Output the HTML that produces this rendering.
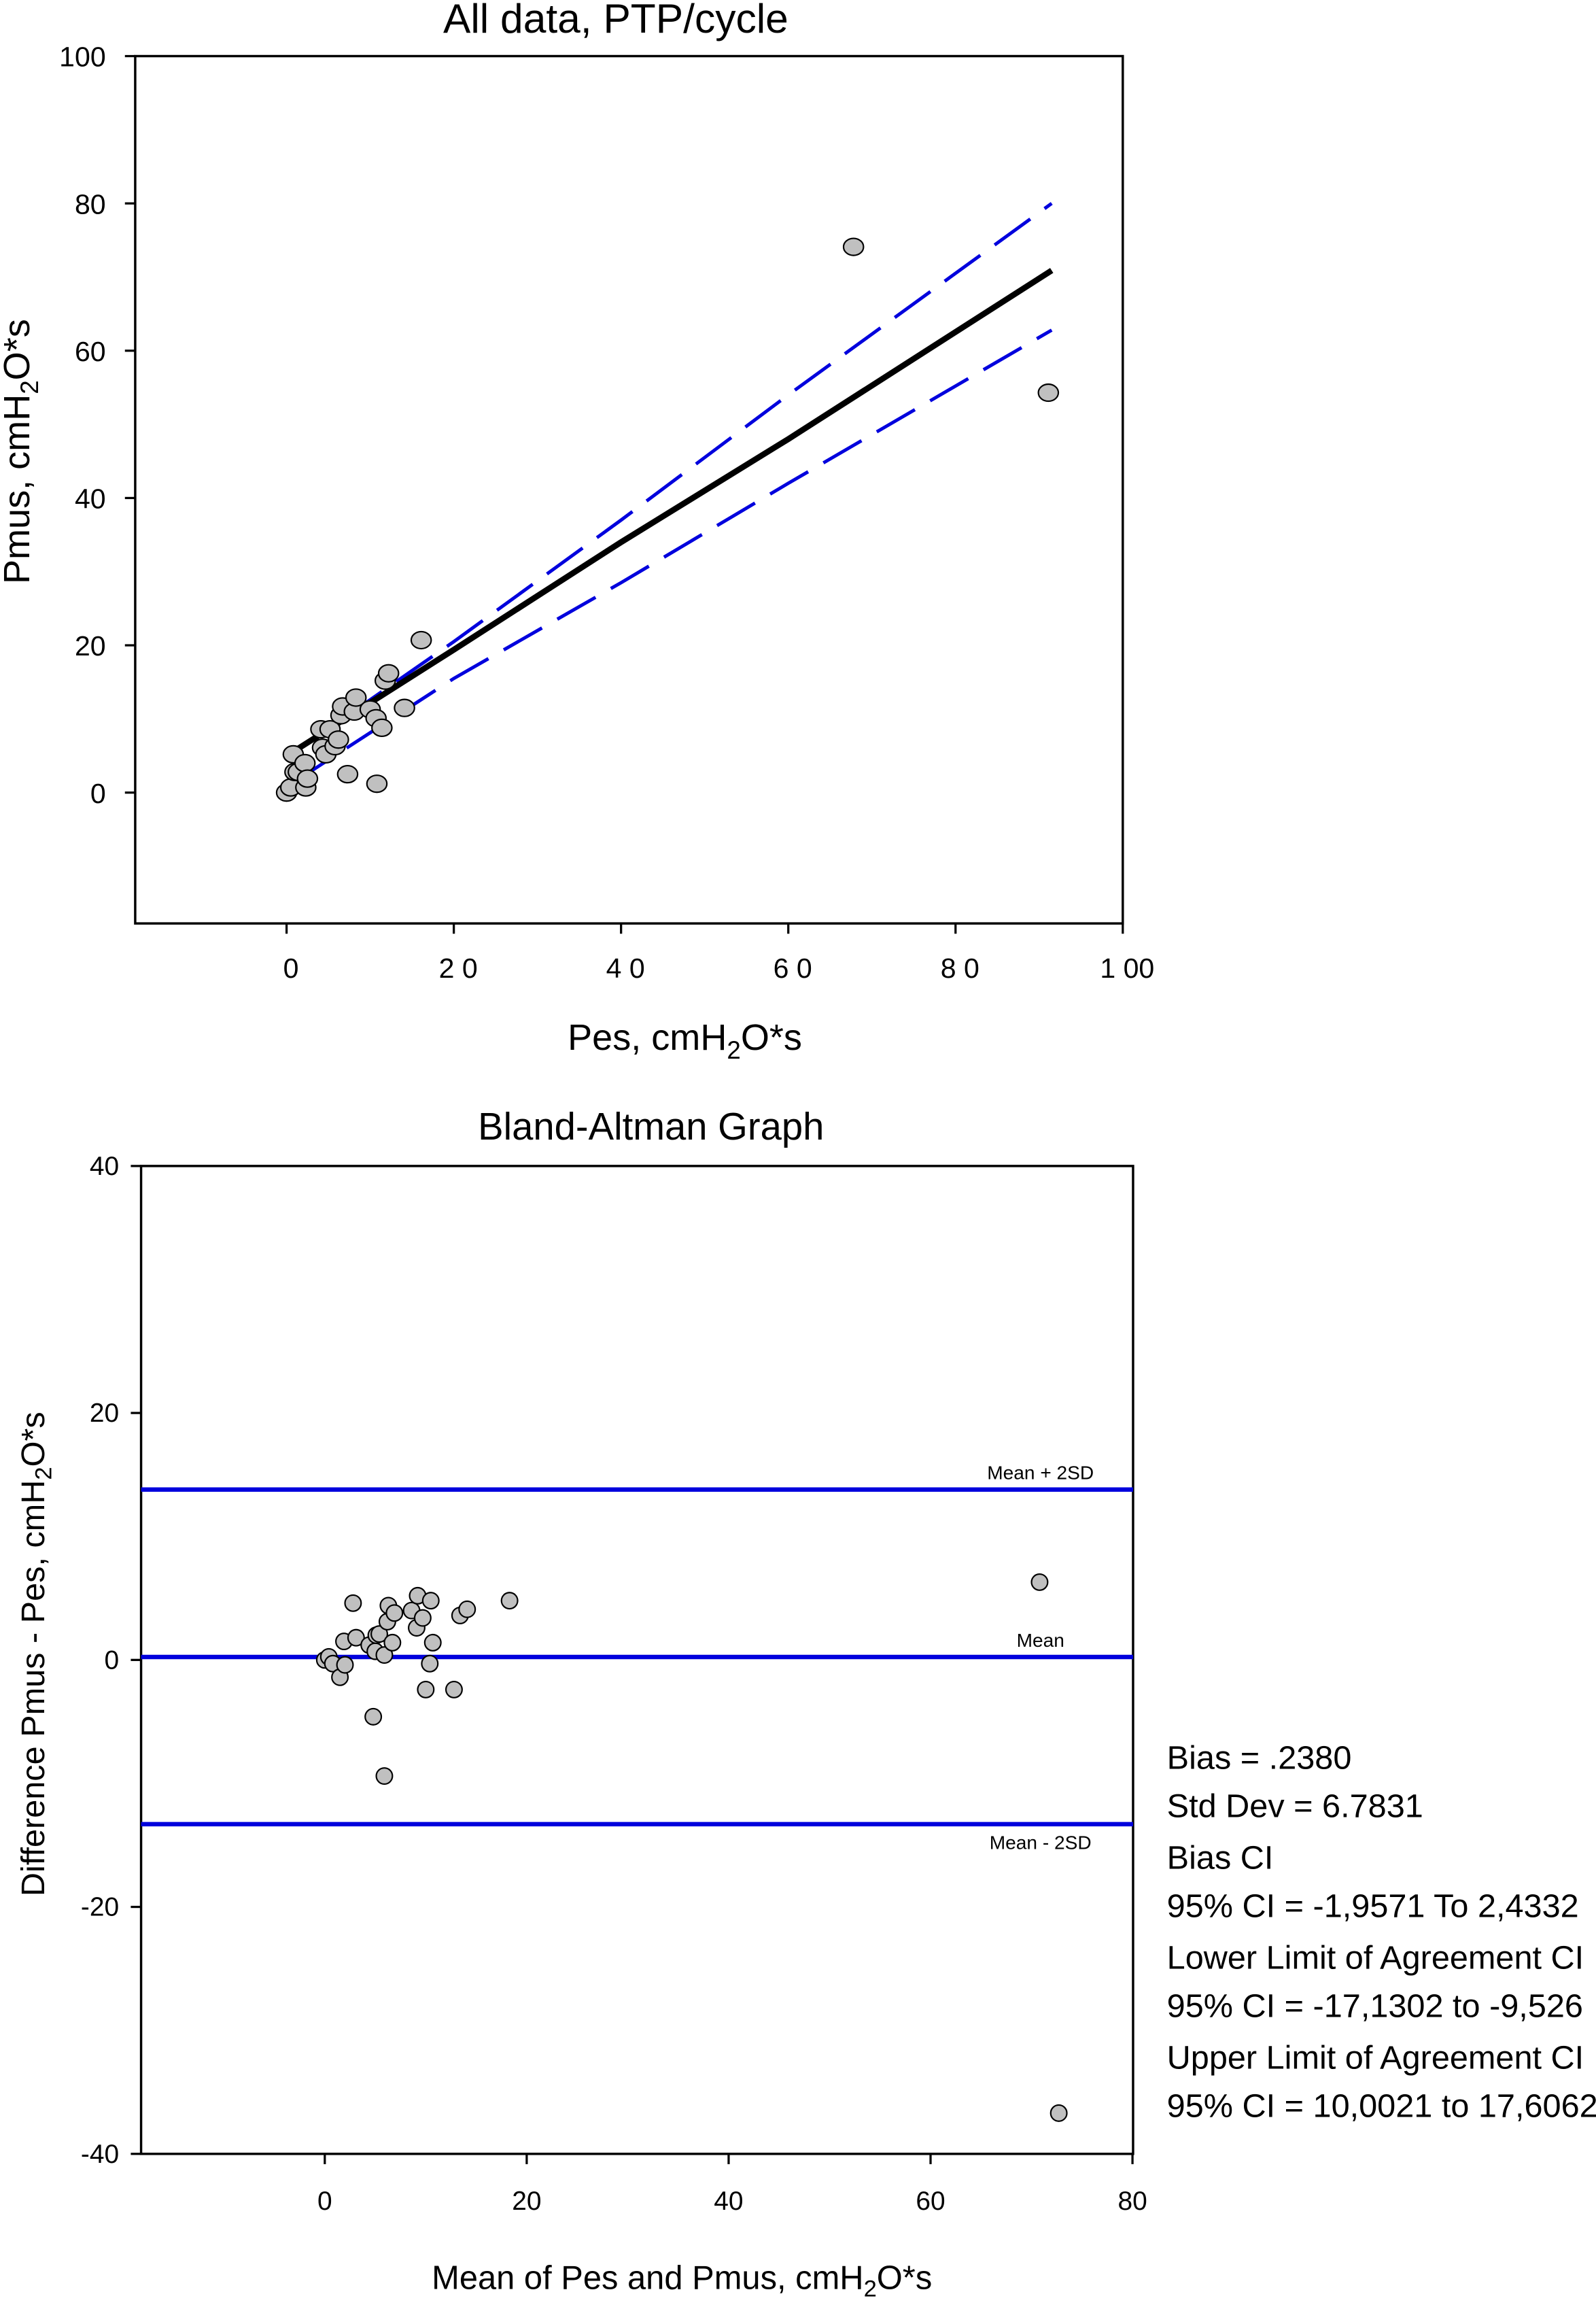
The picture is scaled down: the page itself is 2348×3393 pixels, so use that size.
<!DOCTYPE html>
<html><head><meta charset="utf-8"><style>
html,body{margin:0;padding:0;background:#fff;}
svg{display:block;}
text{font-family:"Liberation Sans",sans-serif;fill:#000;}
.n{font-family:"Liberation Sans Narrow","Liberation Sans",sans-serif;}
</style></head><body>
<svg id="svg" width="2348" height="3393" viewBox="0 0 1086 1569" xmlns="http://www.w3.org/2000/svg">
<rect width="1086" height="1569" fill="#fff"/>
<text x="419" y="22" font-size="28" text-anchor="middle">All data, PTP/cycle</text>
<rect x="92" y="38" width="672" height="590" fill="none" stroke="#000" stroke-width="1.6"/>
<g id="topG"></g>
<text x="466" y="714" font-size="25" text-anchor="middle">Pes, cmH<tspan font-size="17" dy="6">2</tspan><tspan dy="-6">O*s</tspan></text>
<text transform="translate(20,307) rotate(-90)" font-size="25" text-anchor="middle">Pmus, cmH<tspan font-size="17" dy="6">2</tspan><tspan dy="-6">O*s</tspan></text>

<text class="n" x="443" y="775" font-size="26" text-anchor="middle">Bland-Altman Graph</text>
<rect x="96" y="793" width="675" height="672" fill="none" stroke="#000" stroke-width="1.6"/>
<g id="botG"></g>
<text class="n" x="464" y="1557" font-size="22.6" text-anchor="middle">Mean of Pes and Pmus, cmH<tspan font-size="16" dy="5">2</tspan><tspan dy="-5">O*s</tspan></text>
<text transform="translate(30,1125) rotate(-90)" font-size="22.5" text-anchor="middle">Difference Pmus - Pes, cmH<tspan font-size="16" dy="5">2</tspan><tspan dy="-5">O*s</tspan></text>
<g class="n" font-size="22.5">
<text class="n" x="794" y="1203">Bias = .2380</text>
<text class="n" x="794" y="1236">Std Dev = 6.7831</text>
<text class="n" x="794" y="1271">Bias CI</text>
<text class="n" x="794" y="1304">95% CI = -1,9571 To 2,4332</text>
<text class="n" x="794" y="1339">Lower Limit of Agreement CI</text>
<text class="n" x="794" y="1372">95% CI = -17,1302 to -9,526</text>
<text class="n" x="794" y="1407">Upper Limit of Agreement CI</text>
<text class="n" x="794" y="1440">95% CI = 10,0021 to 17,6062</text>
</g>
</svg>
<script>
// Top chart data
const topXTicks=[0,20,40,60,80,100];
const topXTickLabels=["0","2 0","4 0","6 0","8 0","1 00"];
const topYTicks=[0,20,40,60,80,100];
const topPes=[0,0.5,0.8,1,1.4,2.2,2.3,2.5,4.1,4.3,4.7,5.2,5.8,6.2,6.5,6.7,7.3,8.1,8.3,10,10.7,10.8,11.4,11.8,12.2,14.1,16.1,67.8,91.1];
const topPmus=[0,0.7,5.2,2.8,2.8,4,0.7,1.9,8.6,6.1,5.2,8.6,6.3,7.2,10.5,11.7,2.5,11,12.9,11.3,10.1,1.2,8.8,15.2,16.2,11.5,20.7,74.1,54.3];
const regX=[1,20,40,60,91.5];
const regY=[5.7,19.4,34,48,70.9];
const ciX=[1,20,40,60,91.5];
const ciUpper=[5.5,20.5,37,54,80];
const ciLower=[1.5,15.5,28.5,42,62.8];
// Bottom chart data
const botXTicks=[0,20,40,60,80];
const botYTicks=[-40,-20,0,20,40];
const botMean=[0,0.4,0.8,1.5,2,1.9,2.8,3.1,4.4,4.8,5,5.1,5.4,5.9,5.9,6.2,6.3,6.7,6.9,8.6,9.1,9.2,9.7,10,10.4,10.5,10.7,12.8,13.4,14.1,18.3,70.8,72.7];
const botDiff=[0,0.25,-0.3,-1.4,-0.4,1.5,4.6,1.8,1.2,-4.6,0.7,2,2.1,0.4,-9.4,3.1,4.4,1.4,3.8,4,2.6,5.2,3.4,-2.4,-0.3,4.8,1.4,-2.4,3.6,4.1,4.8,6.3,-36.7];
const limitValues=[13.8,0.24,-13.3];
const limitLabels=["Mean + 2SD","Mean","Mean - 2SD"];

const NS="http://www.w3.org/2000/svg";
function mk(parent,tag,attrs){const e=document.createElementNS(NS,tag);for(const k in attrs)e.setAttribute(k,attrs[k]);parent.appendChild(e);return e;}
const tx=v=>195+5.69*v, ty=v=>539-5.01*v;
const bx=v=>221+6.87*v, by=v=>1129-8.4*v;
const topG=document.getElementById('topG'), botG=document.getElementById('botG');

topXTicks.forEach((v,i)=>{
  const l=mk(topG,'line',{x1:tx(v),x2:tx(v),y1:628,y2:635,stroke:'#000','stroke-width':1.5});
  
  
  const t=mk(topG,'text',{x:tx(v)+3,y:665,'font-size':19,'text-anchor':'middle'});t.textContent=topXTickLabels[i];
  
  
});
topYTicks.forEach(v=>{
  const l=mk(topG,'line',{x1:85,x2:92,y1:ty(v),y2:ty(v),stroke:'#000','stroke-width':1.5});
  
  
  const t=mk(topG,'text',{x:72,y:ty(v)+7,'font-size':19,'text-anchor':'end'});t.textContent=String(v);
  
  
});
function pts(xs,ys,fx,fy){return xs.map((x,i)=>fx(x)+','+fy(ys[i])).join(' ');}
const up=mk(topG,'polyline',{points:pts(ciX,ciUpper,tx,ty),fill:'none',stroke:'#0000dd','stroke-width':2.3,'stroke-dasharray':'30,12'});


const lo=mk(topG,'polyline',{points:pts(ciX,ciLower,tx,ty),fill:'none',stroke:'#0000dd','stroke-width':2.3,'stroke-dasharray':'30,12'});


const rg=mk(topG,'polyline',{points:pts(regX,regY,tx,ty),fill:'none',stroke:'#000','stroke-width':4});


topPes.forEach((x,i)=>{
  const c=mk(topG,'ellipse',{cx:tx(x),cy:ty(topPmus[i]),rx:6.8,ry:5.8,fill:'#c0c0c0',stroke:'#000','stroke-width':1});
  
  
});

botXTicks.forEach(v=>{
  const l=mk(botG,'line',{x1:bx(v),x2:bx(v),y1:1465,y2:1472,stroke:'#000','stroke-width':1.5});
  
  
  const t=mk(botG,'text',{x:bx(v),y:1503,'font-size':18,'text-anchor':'middle',class:'n'});t.textContent=String(v);
  
  
});
botYTicks.forEach(v=>{
  const l=mk(botG,'line',{x1:89,x2:96,y1:by(v),y2:by(v),stroke:'#000','stroke-width':1.5});
  
  
  const t=mk(botG,'text',{x:81,y:by(v)+6,'font-size':18,'text-anchor':'end',class:'n'});t.textContent=String(v);
  
  
});
limitValues.forEach((v,i)=>{
  const l=mk(botG,'line',{x1:96,x2:771,y1:by(v),y2:by(v),stroke:'#0000dd','stroke-width':3});
  
  
  const t=mk(botG,'text',{x:708,y:by(v)+(i===2?17:-7),'font-size':13,'text-anchor':'middle',class:'n'});t.textContent=limitLabels[i];
  
  
});
botMean.forEach((x,i)=>{
  const c=mk(botG,'ellipse',{cx:bx(x),cy:by(botDiff[i]),rx:5.5,ry:5.5,fill:'#c0c0c0',stroke:'#000','stroke-width':1});
  
  
});
</script>
</body></html>
